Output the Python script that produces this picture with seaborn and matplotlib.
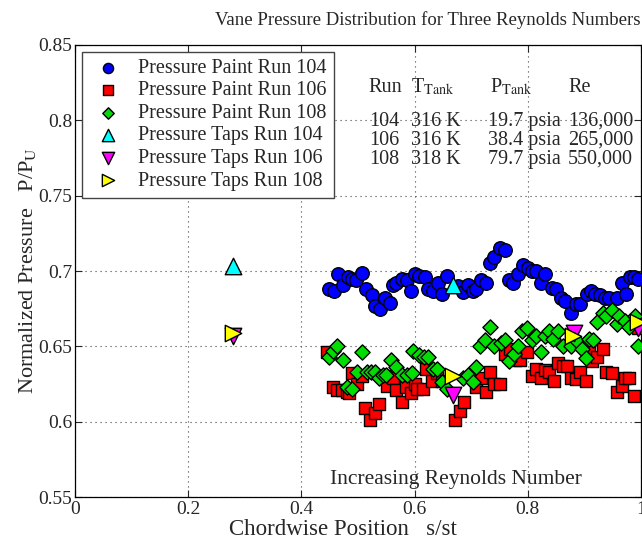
import matplotlib
matplotlib.use("Agg")
import matplotlib.pyplot as plt
import seaborn as sns
import pandas as pd
import numpy as np

# ---------------- data ----------------
s104 = [0.448,0.457,0.464,0.473,0.482,0.489,0.497,0.507,0.514,0.524,
        0.530,0.538,0.547,0.556,0.561,0.568,0.577,0.586,0.593,0.600,
        0.607,0.618,0.623,0.632,0.641,0.648,0.657,
        0.676,0.685,0.695,0.703,0.709,0.718,0.727,0.734,0.741,0.750,
        0.759,0.766,0.773,0.782,0.791,0.800,0.808,0.815,0.824,0.831,
        0.842,0.849,0.858,0.865,0.877,0.886,0.893,0.904,0.911,0.918,
        0.927,0.936,0.944,0.957,0.966,0.974,0.980,0.987,0.994]
p104 = [0.688,0.687,0.698,0.691,0.696,0.695,0.694,0.699,0.688,0.684,
        0.677,0.675,0.682,0.679,0.691,0.692,0.695,0.694,0.687,0.698,
        0.697,0.696,0.688,0.687,0.692,0.685,0.697,
        0.690,0.686,0.691,0.687,0.688,0.694,0.692,0.705,0.709,0.715,
        0.714,0.694,0.692,0.698,0.704,0.702,0.700,0.700,0.692,0.698,
        0.689,0.688,0.682,0.680,0.672,0.678,0.678,0.685,0.687,0.685,
        0.684,0.682,0.682,0.682,0.692,0.685,0.696,0.696,0.695]

s106 = [0.446,0.455,0.463,0.471,0.480,0.484,0.489,0.498,0.507,0.512,
        0.521,0.530,0.537,0.547,0.552,0.561,0.568,0.577,0.584,0.593,
        0.600,0.605,0.614,0.621,0.630,0.639,0.648,0.671,0.680,0.687,
        0.709,0.718,0.727,0.734,0.741,0.750,0.759,0.768,0.777,0.786,
        0.798,0.807,0.815,0.823,0.830,0.838,0.847,0.853,0.862,0.870,
        0.877,0.886,0.893,0.902,0.909,0.914,0.923,0.932,0.939,0.948,
        0.957,0.966,0.971,0.978,0.987,0.995]
p106 = [0.646,0.623,0.621,0.621,0.620,0.619,0.632,0.625,0.630,0.609,
        0.601,0.606,0.612,0.630,0.624,0.629,0.621,0.613,0.623,0.619,
        0.625,0.622,0.622,0.635,0.627,0.632,0.627,0.601,0.607,0.613,
        0.623,0.629,0.620,0.633,0.625,0.625,0.645,0.648,0.641,0.641,
        0.646,0.630,0.635,0.629,0.634,0.633,0.627,0.639,0.637,0.637,
        0.629,0.628,0.633,0.627,0.647,0.640,0.643,0.648,0.633,0.632,
        0.620,0.624,0.629,0.629,0.617,0.662]

s108 = [0.448,0.455,0.463,0.473,0.480,0.489,0.498,0.507,0.516,0.523,
        0.530,0.537,0.544,0.550,0.559,0.568,0.577,0.586,0.595,0.598,
        0.607,0.616,0.623,0.632,0.639,0.648,0.657,0.685,0.694,0.703,
        0.709,0.715,0.724,0.733,0.741,0.752,0.759,0.766,0.775,0.782,
        0.789,0.798,0.807,0.815,0.824,0.831,0.838,0.845,0.853,0.862,
        0.877,0.886,0.895,0.902,0.909,0.916,0.923,0.932,0.939,0.948,
        0.957,0.962,0.971,0.978,0.989,0.994]
p108 = [0.643,0.647,0.650,0.641,0.623,0.622,0.633,0.646,0.633,0.633,
        0.633,0.629,0.631,0.631,0.641,0.636,0.631,0.631,0.632,0.647,
        0.644,0.643,0.643,0.635,0.635,0.626,0.622,0.629,0.631,0.626,
        0.636,0.650,0.654,0.663,0.650,0.652,0.654,0.640,0.645,0.650,
        0.660,0.662,0.654,0.657,0.646,0.657,0.660,0.655,0.660,0.650,
        0.650,0.654,0.648,0.642,0.655,0.654,0.666,0.672,0.670,0.674,
        0.665,0.670,0.667,0.663,0.670,0.650]

tap_s104 = [0.280, 0.667]
tap_p104 = [0.703, 0.691]
tap_s106 = [0.280, 0.667, 0.882, 0.994]
tap_p106 = [0.657, 0.618, 0.659, 0.662]
tap_s108 = [0.280, 0.667, 0.879, 0.994]
tap_p108 = [0.659, 0.630, 0.657, 0.666]

series_labels = ["Pressure Paint Run 104", "Pressure Paint Run 106", "Pressure Paint Run 108",
                 "Pressure Taps Run 104", "Pressure Taps Run 106", "Pressure Taps Run 108"]

table_header = ["Run", "T$_{\\mathrm{Tank}}$", "P$_{\\mathrm{Tank}}$", "Re"]
table_runs = ["104", "106", "108"]
table_T = ["316 K", "316 K", "318 K"]
table_P = ["19.7 psia", "38.4 psia", "79.7 psia"]
table_Re = ["136,000", "265,000", "550,000"]

# ---------------- style ----------------
sns.set_style("ticks")
plt.rcParams['font.family'] = ['Liberation Serif', 'DejaVu Serif']
plt.rcParams['mathtext.fontset'] = 'stix'
plt.rcParams['xtick.direction'] = 'in'
plt.rcParams['ytick.direction'] = 'in'

fig = plt.figure(figsize=(6.42, 5.42), dpi=100)
ax = fig.add_axes([75/642, 45/542, 566/642, 452/542])

specs = [
    (s104, p104, 'o', '#0000ff', 95),
    (s106, p106, 's', '#ff0000', 75),
    (s108, p108, 'D', '#00dd00', 60),
    (tap_s104, tap_p104, '^', '#00ffff', 140),
    (tap_s106, tap_p106, 'v', '#ff00ff', 140),
    (tap_s108, tap_p108, '>', '#ffff00', 140),
]
for (xs, ys, mk, col, sz), lab in zip(specs, series_labels):
    df = pd.DataFrame({"s": xs, "p": ys})
    sns.scatterplot(data=df, x="s", y="p", marker=mk, color=col, s=sz,
                    edgecolor='black', linewidth=1.0, ax=ax, label=lab, zorder=3)

ax.set_xlim(0, 1)
ax.set_ylim(0.55, 0.85)
ax.set_xticks([0, 0.2, 0.4, 0.6, 0.8, 1])
ax.set_xticklabels(["0", "0.2", "0.4", "0.6", "0.8", "1"])
ax.set_yticks([0.55, 0.6, 0.65, 0.7, 0.75, 0.8, 0.85])
ax.set_yticklabels(["0.55", "0.6", "0.65", "0.7", "0.75", "0.8", "0.85"])
ax.tick_params(axis='both', labelsize=14, top=True, right=True, length=5, width=0.8)
ax.tick_params(axis='x', pad=3)
ax.tick_params(axis='y', pad=2)
for lbl in ax.get_yticklabels():
    lbl.set_verticalalignment('center_baseline')
ax.grid(True, linestyle=(0, (1, 3.5)), color='#444444', linewidth=0.8)
ax.set_axisbelow(True)
for sp in ax.spines.values():
    sp.set_linewidth(0.9)
    sp.set_color('black')

ax.set_xlabel("Chordwise Position   s/st", fontsize=16.5)
ax.xaxis.set_label_coords(0.473, -0.048)
ax.set_ylabel("Normalized Pressure   P/P$_{\\mathrm{U}}$", fontsize=16, labelpad=0)
fig.text(428/642, 1 - 20/542, "Vane Pressure Distribution for Three Reynolds Numbers",
         ha='center', va='center', fontsize=13.5)

leg = ax.legend(loc='upper left', bbox_to_anchor=(0.012, 0.985), borderaxespad=0,
                fontsize=14.5, labelspacing=0.17, handletextpad=0.55, handlelength=1.9,
                borderpad=0.35, fancybox=False, framealpha=1, edgecolor='#444444',
                markerscale=0.75)
leg.get_frame().set_linewidth(1.0)
leg.set_zorder(5)

# table annotation
fs_t = 14.5
col_x = [0.519, 0.594, 0.733, 0.871]
for cx, h in zip(col_x, table_header):
    ax.text(cx, 0.8185, h, fontsize=fs_t, va='baseline', zorder=6)
row_y = [0.7965, 0.7838, 0.7712]
row_x = [0.519, 0.594, 0.729, 0.871]
for i in range(3):
    ax.text(row_x[0], row_y[i], table_runs[i], fontsize=fs_t, va='baseline', zorder=6)
    ax.text(row_x[1], row_y[i], table_T[i], fontsize=fs_t, va='baseline', zorder=6)
    ax.text(row_x[2], row_y[i], table_P[i], fontsize=fs_t, va='baseline', zorder=6)
    ax.text(row_x[3], row_y[i], table_Re[i], fontsize=fs_t, va='baseline', zorder=6)

ax.text(0.45, 0.5585, "Increasing Reynolds Number", fontsize=15.5, va='baseline', zorder=6)

fig.savefig("out.png", dpi=100)
